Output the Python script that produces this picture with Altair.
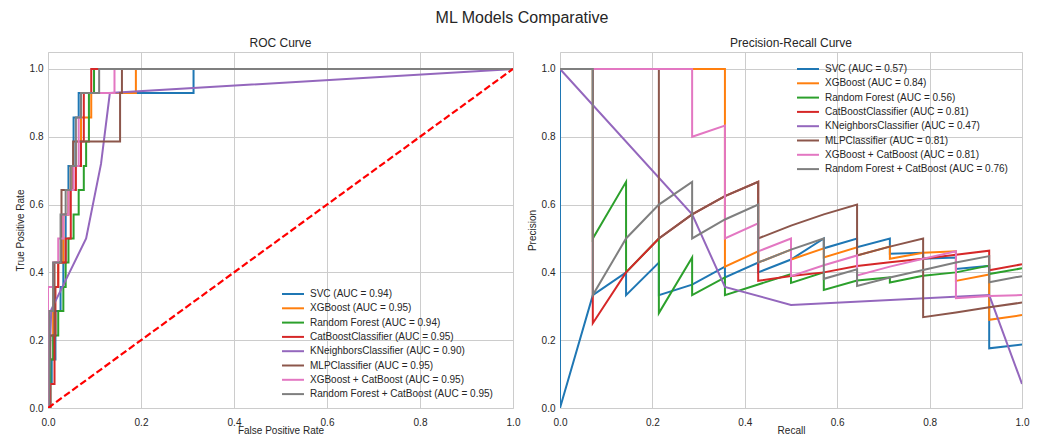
import altair as alt
import pandas as pd

FONT = "Liberation Sans"
TXT = "#262626"

MODELS = ["SVC", "XGBoost", "Random Forest", "CatBoostClassifier",
          "KNeighborsClassifier", "MLPClassifier", "XGBoost + CatBoost",
          "Random Forest + CatBoost"]
COLORS = ["#1f77b4", "#ff7f0e", "#2ca02c", "#d62728",
          "#9467bd", "#8c564b", "#e377c2", "#7f7f7f"]
ROC_AUC = ["0.94", "0.95", "0.94", "0.95", "0.90", "0.95", "0.95", "0.95"]
PR_AUC = ["0.57", "0.84", "0.56", "0.81", "0.47", "0.81", "0.81", "0.76"]

# ---------------- ROC curves (fpr, tpr) ----------------
svc_fpr = [0, 0.005, 0.005, 0.008, 0.008, 0.016, 0.016, 0.027, 0.027, 0.033, 0.033, 0.038, 0.038, 0.044, 0.044, 0.055, 0.055, 0.066, 0.066, 0.313, 0.313, 1.0]
svc_tpr = [0, 0, 0.071, 0.071, 0.143, 0.143, 0.286, 0.286, 0.357, 0.357, 0.429, 0.429, 0.571, 0.571, 0.714, 0.714, 0.857, 0.857, 0.929, 0.929, 1.0, 1.0]

xgb_fpr = [0, 0.003, 0.003, 0.011, 0.011, 0.022, 0.022, 0.033, 0.033, 0.044, 0.044, 0.049, 0.049, 0.060, 0.060, 0.071, 0.071, 0.093, 0.093, 0.189, 0.189, 1.0]
xgb_tpr = [0, 0, 0.214, 0.214, 0.357, 0.357, 0.429, 0.429, 0.571, 0.571, 0.643, 0.643, 0.714, 0.714, 0.786, 0.786, 0.857, 0.857, 0.929, 0.929, 1.0, 1.0]

rf_fpr = [0, 0.005, 0.005, 0.011, 0.011, 0.022, 0.022, 0.033, 0.033, 0.038, 0.038, 0.044, 0.044, 0.055, 0.055, 0.066, 0.066, 0.077, 0.077, 0.082, 0.082, 0.088, 0.088, 0.099, 0.099, 1.0]
rf_tpr = [0, 0, 0.143, 0.143, 0.214, 0.214, 0.286, 0.286, 0.357, 0.357, 0.429, 0.429, 0.5, 0.5, 0.571, 0.571, 0.643, 0.643, 0.714, 0.714, 0.786, 0.786, 0.929, 0.929, 1.0, 1.0]

cat_fpr = [0, 0.005, 0.005, 0.014, 0.014, 0.016, 0.016, 0.022, 0.022, 0.038, 0.038, 0.049, 0.049, 0.060, 0.060, 0.071, 0.071, 0.077, 0.077, 0.093, 0.093, 1.0]
cat_tpr = [0, 0, 0.071, 0.071, 0.214, 0.214, 0.357, 0.357, 0.429, 0.429, 0.5, 0.5, 0.643, 0.643, 0.714, 0.714, 0.786, 0.786, 0.929, 0.929, 1.0, 1.0]

knn_fpr = [0, 0.007, 0.082, 0.114, 0.133, 1.0]
knn_tpr = [0, 0.29, 0.5, 0.72, 0.929, 1.0]

mlp_fpr = [0, 0, 0.005, 0.005, 0.014, 0.014, 0.029, 0.029, 0.054, 0.054, 0.155, 0.155, 0.159, 0.159, 1.0]
mlp_tpr = [0, 0.143, 0.143, 0.214, 0.214, 0.429, 0.429, 0.643, 0.643, 0.786, 0.786, 0.929, 0.929, 1.0, 1.0]

xc_fpr = [0, 0, 0.011, 0.011, 0.022, 0.022, 0.033, 0.033, 0.044, 0.044, 0.055, 0.055, 0.066, 0.066, 0.071, 0.071, 0.143, 0.143, 1.0]
xc_tpr = [0, 0.357, 0.357, 0.429, 0.429, 0.5, 0.5, 0.571, 0.571, 0.643, 0.643, 0.714, 0.714, 0.857, 0.857, 0.929, 0.929, 1.0, 1.0]

rc_fpr = [0, 0.003, 0.003, 0.011, 0.011, 0.027, 0.027, 0.038, 0.038, 0.049, 0.049, 0.060, 0.060, 0.071, 0.071, 0.110, 0.110, 1.0]
rc_tpr = [0, 0, 0.286, 0.286, 0.429, 0.429, 0.571, 0.571, 0.643, 0.643, 0.714, 0.714, 0.857, 0.857, 0.929, 0.929, 1.0, 1.0]

diag_x = [0.0, 1.0]
diag_y = [0.0, 1.0]

# ---------------- Precision-recall curves (recall, precision) ----------------
svc_rec = [0, 0, 0.071, 0.143, 0.143, 0.214, 0.214, 0.286, 0.357, 0.357, 0.429, 0.429, 0.5, 0.5, 0.571, 0.571, 0.643, 0.643, 0.714, 0.714, 0.786, 0.786, 0.857, 0.857, 0.929, 0.929, 1.0]
svc_pre = [1, 0, 0.333, 0.4, 0.333, 0.429, 0.333, 0.364, 0.417, 0.385, 0.429, 0.4, 0.438, 0.438, 0.5, 0.471, 0.5, 0.474, 0.5, 0.455, 0.458, 0.44, 0.444, 0.41, 0.419, 0.176, 0.187]

xgb_rec = [0, 0.357, 0.357, 0.429, 0.429, 0.5, 0.5, 0.571, 0.571, 0.643, 0.643, 0.714, 0.714, 0.786, 0.857, 0.857, 0.929, 0.929, 1.0]
xgb_pre = [1, 1, 0.417, 0.462, 0.429, 0.467, 0.438, 0.471, 0.444, 0.474, 0.45, 0.476, 0.44, 0.458, 0.462, 0.375, 0.394, 0.26, 0.274]

rf_rec = [0, 0.071, 0.071, 0.143, 0.143, 0.214, 0.214, 0.286, 0.286, 0.357, 0.357, 0.5, 0.5, 0.571, 0.571, 0.643, 0.714, 0.714, 0.786, 0.857, 0.929, 0.929, 1.0]
rf_pre = [1, 1, 0.5, 0.667, 0.4, 0.5, 0.28, 0.444, 0.333, 0.385, 0.333, 0.395, 0.369, 0.4, 0.348, 0.376, 0.385, 0.37, 0.39, 0.4, 0.42, 0.395, 0.412]

cat_rec = [0, 0.071, 0.071, 0.143, 0.214, 0.286, 0.357, 0.429, 0.429, 0.5, 0.571, 0.643, 0.714, 0.786, 0.857, 0.929, 0.929, 1.0]
cat_pre = [1, 1, 0.25, 0.4, 0.5, 0.571, 0.625, 0.667, 0.375, 0.389, 0.4, 0.419, 0.43, 0.44, 0.452, 0.464, 0.406, 0.424]

knn_rec = [0, 0.286, 0.357, 0.5, 0.929, 1.0]
knn_pre = [1, 0.571, 0.357, 0.304, 0.333, 0.071]

mlp_rec = [0, 0.214, 0.214, 0.286, 0.357, 0.429, 0.429, 0.5, 0.571, 0.643, 0.643, 0.714, 0.786, 0.786, 0.857, 0.929, 1.0]
mlp_pre = [1, 1, 0.5, 0.571, 0.625, 0.667, 0.5, 0.538, 0.571, 0.6, 0.45, 0.476, 0.5, 0.268, 0.282, 0.297, 0.311]

xc_rec = [0, 0.286, 0.286, 0.357, 0.357, 0.429, 0.429, 0.5, 0.5, 0.571, 0.643, 0.643, 0.714, 0.786, 0.857, 0.857, 0.929, 1.0]
xc_pre = [1, 1, 0.8, 0.833, 0.5, 0.545, 0.462, 0.5, 0.389, 0.421, 0.45, 0.391, 0.417, 0.44, 0.462, 0.324, 0.33, 0.333]

rc_rec = [0, 0.071, 0.071, 0.143, 0.214, 0.286, 0.286, 0.357, 0.429, 0.429, 0.5, 0.571, 0.571, 0.643, 0.643, 0.714, 0.786, 0.857, 0.929, 0.929, 1.0]
rc_pre = [1, 1, 0.333, 0.5, 0.6, 0.667, 0.5, 0.556, 0.6, 0.429, 0.467, 0.5, 0.381, 0.409, 0.36, 0.385, 0.407, 0.429, 0.448, 0.371, 0.389]

ROC_X = [svc_fpr, xgb_fpr, rf_fpr, cat_fpr, knn_fpr, mlp_fpr, xc_fpr, rc_fpr]
ROC_Y = [svc_tpr, xgb_tpr, rf_tpr, cat_tpr, knn_tpr, mlp_tpr, xc_tpr, rc_tpr]
PR_X = [svc_rec, xgb_rec, rf_rec, cat_rec, knn_rec, mlp_rec, xc_rec, rc_rec]
PR_Y = [svc_pre, xgb_pre, rf_pre, cat_pre, knn_pre, mlp_pre, xc_pre, rc_pre]

roc_labels = [f"{m} (AUC = {a})" for m, a in zip(MODELS, ROC_AUC)]
pr_labels = [f"{m} (AUC = {a})" for m, a in zip(MODELS, PR_AUC)]


def build(labels, xs, ys):
    rows = []
    for lab, xv, yv in zip(labels, xs, ys):
        for i, (a, b) in enumerate(zip(xv, yv)):
            rows.append({"label": lab, "i": i, "x": a, "y": b})
    return pd.DataFrame(rows)


roc_df = build(roc_labels, ROC_X, ROC_Y)
pr_df = build(pr_labels, PR_X, PR_Y)
diag_df = pd.DataFrame({"x": diag_x, "y": diag_y})

TICKS = [0.0, 0.2, 0.4, 0.6, 0.8, 1.0]


def axes(xtitle, ytitle):
    x = alt.X("x:Q", scale=alt.Scale(domain=[0, 1], nice=False, zero=False),
              axis=alt.Axis(values=TICKS, format=".1f", title=xtitle,
                            labelPadding=9, titlePadding=-2))
    y = alt.Y("y:Q", scale=alt.Scale(domain=[0, 1.05], nice=False, zero=False),
              axis=alt.Axis(values=TICKS, format=".1f", title=ytitle))
    return x, y


# a wide horizontal stroke inside a small symbol box, so that rows stay close
LEGEND_LINE = "M-1.83,0H1.83"


def legend(lx, ly):
    return alt.Legend(title=None, orient="none", legendX=lx, legendY=ly,
                      symbolType=LEGEND_LINE, symbolSize=144, symbolStrokeWidth=2,
                      rowPadding=2.3, labelOffset=10, labelFontSize=10,
                      labelFont=FONT, labelColor=TXT, labelLimit=400, padding=0)


x1, y1 = axes("False Positive Rate", "True Positive Rate")
roc_lines = alt.Chart(roc_df).mark_line(strokeWidth=2, clip=True).encode(
    x=x1, y=y1,
    color=alt.Color("label:N", scale=alt.Scale(domain=roc_labels, range=COLORS),
                    sort=roc_labels, legend=legend(238, 235)),
    order="i:Q",
)
diag = alt.Chart(diag_df).mark_line(color="#ff0000", strokeWidth=2.2,
                                    strokeDash=[7, 3], clip=True).encode(x="x:Q", y="y:Q")
roc = alt.layer(roc_lines, diag).properties(
    width=465, height=356,
    title=alt.TitleParams("ROC Curve", fontSize=12, font=FONT, color=TXT,
                          fontWeight="normal", offset=2))

x2, y2 = axes("Recall", "Precision")
pr = alt.Chart(pr_df).mark_line(strokeWidth=2, clip=True).encode(
    x=x2, y=y2,
    color=alt.Color("label:N", scale=alt.Scale(domain=pr_labels, range=COLORS),
                    sort=pr_labels, legend=legend(241, 10)),
    order="i:Q",
).properties(
    width=462, height=356,
    title=alt.TitleParams("Precision-Recall Curve", fontSize=12, font=FONT,
                          color=TXT, fontWeight="normal", offset=2))

chart = alt.hconcat(roc, pr, spacing=47, bounds="flush").resolve_scale(
    color="independent"
).properties(
    title=alt.TitleParams("ML Models Comparative", fontSize=16, font=FONT,
                          color=TXT, fontWeight="normal", anchor="middle", offset=11),
    padding={"left": 14, "top": 9, "right": 5, "bottom": 0},
    background="white",
).configure_view(
    stroke="#cccccc", strokeWidth=1
).configure_axis(
    grid=True, gridColor="#cccccc", gridWidth=1, domain=False, ticks=False,
    tickSize=0, labelFont=FONT, labelFontSize=10, labelColor=TXT,
    labelPadding=5, labelFlush=False, titleFont=FONT, titleFontSize=10,
    titleFontWeight="normal", titleColor=TXT, titlePadding=4
)

chart.save("out.html", embed_options={"renderer": "svg", "actions": False})
